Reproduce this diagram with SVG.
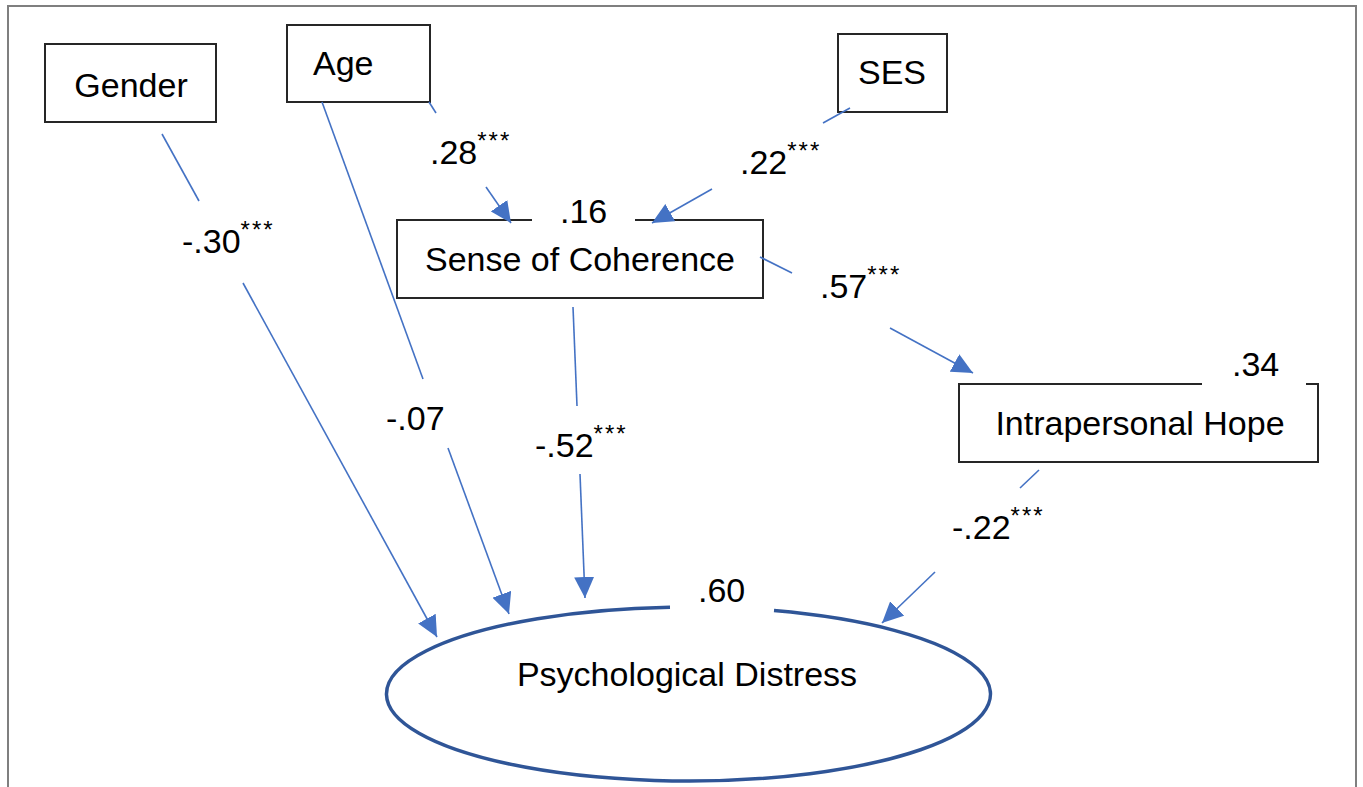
<svg xmlns="http://www.w3.org/2000/svg" width="1363" height="787" viewBox="0 0 1363 787">
<style>
  .bg{fill:#ffffff}
  .frame{fill:none;stroke:#7f7f7f;stroke-width:2}
  .box{fill:none;stroke:#262626;stroke-width:2}
  .ell{fill:none;stroke:#2F5597;stroke-width:3.5}
  .lbl{font-family:"Liberation Sans",Arial,sans-serif;font-size:34px;fill:#000}
  .sup{font-size:24px;letter-spacing:2px}
  .conn line{stroke:#4472C4;stroke-width:1.6;fill:none}
</style>
<defs>
  <marker id="arrow" markerUnits="userSpaceOnUse" markerWidth="22" markerHeight="20" refX="21" refY="10" orient="auto">
    <path d="M0,0 L21,10 L0,20 z" fill="#4472C4"/>
  </marker>
</defs>
<rect class="bg" x="0" y="0" width="1363" height="787"/>
<rect class="frame" x="8" y="6" width="1348" height="800"/>

<g id="gender">
  <rect class="box" x="45" y="44" width="171" height="78"/>
  <text class="lbl" x="131" y="97" text-anchor="middle">Gender</text>
</g>
<g id="age">
  <rect class="box" x="287" y="25" width="143" height="77"/>
  <text class="lbl" x="313" y="75">Age</text>
</g>
<g id="ses">
  <rect class="box" x="838" y="34" width="109" height="78"/>
  <text class="lbl" x="892" y="84" text-anchor="middle">SES</text>
</g>
<g id="soc">
  <path class="box" d="M532,220 H397 V298 H763 V220 H635"/>
  <text class="lbl" x="560" y="223">.16</text>
  <text class="lbl" x="580" y="271" text-anchor="middle">Sense of Coherence</text>
</g>
<g id="hope">
  <path class="box" d="M1202,384 H959 V462 H1318 V384 H1306"/>
  <text class="lbl" x="1232" y="376">.34</text>
  <text class="lbl" x="1140" y="435" text-anchor="middle">Intrapersonal Hope</text>
</g>
<g id="distress">
  <path class="ell" d="M774,610.6 A302,87 0 1,1 670,607.2"/>
  <text class="lbl" x="698" y="602">.60</text>
  <text class="lbl" x="687" y="686" text-anchor="middle">Psychological Distress</text>
</g>

<g id="connectors" class="conn">
  <line x1="162" y1="134" x2="199" y2="201"/>
  <line x1="243" y1="283" x2="437" y2="637" marker-end="url(#arrow)"/>
  <line x1="322" y1="102" x2="423" y2="379"/>
  <line x1="448" y1="448" x2="509" y2="614" marker-end="url(#arrow)"/>
  <line x1="429" y1="102" x2="436" y2="113"/>
  <line x1="486" y1="187" x2="511" y2="223" marker-end="url(#arrow)"/>
  <line x1="850" y1="108" x2="823" y2="123"/>
  <line x1="712" y1="189" x2="652" y2="223" marker-end="url(#arrow)"/>
  <line x1="760" y1="257" x2="792" y2="273"/>
  <line x1="890" y1="328" x2="973" y2="373" marker-end="url(#arrow)"/>
  <line x1="573" y1="307" x2="577" y2="406"/>
  <line x1="580" y1="474" x2="585" y2="598" marker-end="url(#arrow)"/>
  <line x1="1039" y1="470" x2="1020" y2="488"/>
  <line x1="935" y1="572" x2="882" y2="623" marker-end="url(#arrow)"/>
</g>

<g id="labels">
  <text class="lbl" x="182" y="253">-.30<tspan class="sup" dy="-15">***</tspan></text>
  <text class="lbl" x="386" y="430">-.07</text>
  <text class="lbl" x="430" y="164">.28<tspan class="sup" dy="-15">***</tspan></text>
  <text class="lbl" x="740" y="174">.22<tspan class="sup" dy="-15">***</tspan></text>
  <text class="lbl" x="820" y="298">.57<tspan class="sup" dy="-15">***</tspan></text>
  <text class="lbl" x="535" y="457">-.52<tspan class="sup" dy="-15">***</tspan></text>
  <text class="lbl" x="952" y="539">-.22<tspan class="sup" dy="-15">***</tspan></text>
</g>
</svg>
